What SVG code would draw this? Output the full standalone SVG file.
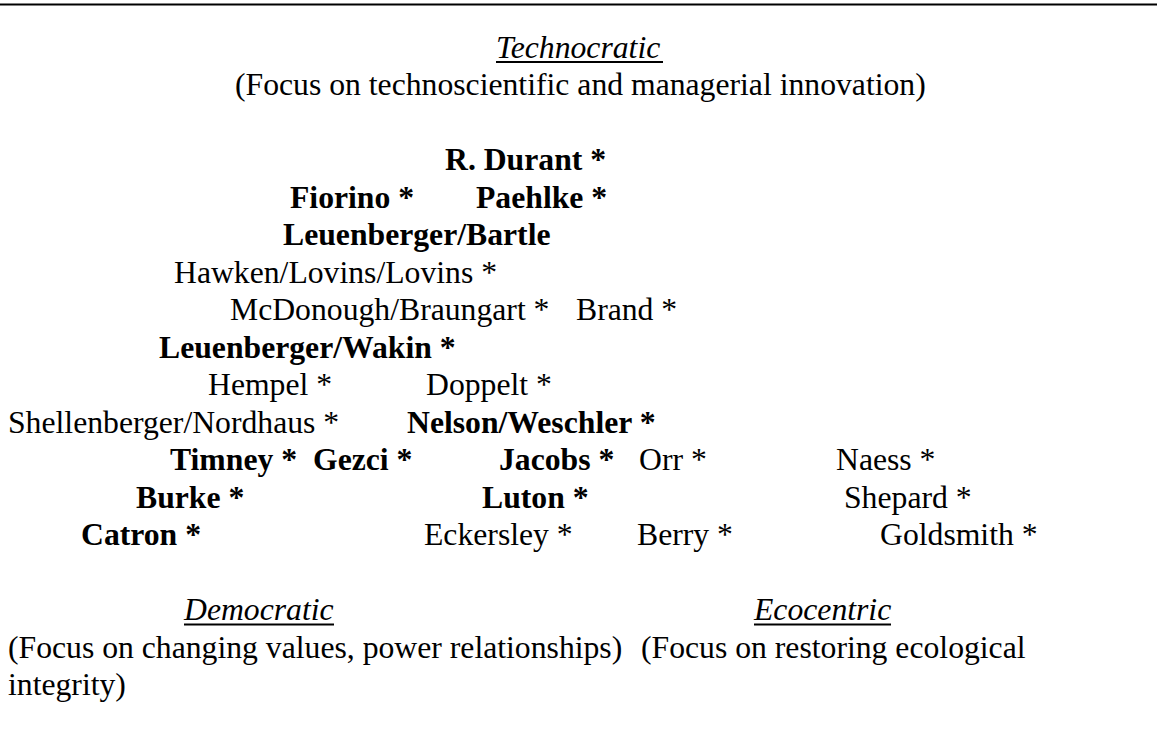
<svg xmlns="http://www.w3.org/2000/svg" width="1157" height="730" viewBox="0 0 1157 730">
<style>
text{font-family:"Liberation Serif","Times New Roman",serif;font-size:31.7px;fill:#000}
.b{font-weight:bold}
.i{font-style:italic}
.ul{stroke:#000;stroke-width:2}
</style>
<rect width="1157" height="730" fill="#fff"/>
<line x1="0" y1="4.5" x2="1157" y2="4.5" stroke="#000" stroke-width="2"/>
<g id="technocratic">
<text class="i" x="496" y="57.5">Technocratic</text>
<line class="ul" x1="496" y1="62" x2="663" y2="62"/>
<text x="235" y="95">(Focus on technoscientific and managerial innovation)</text>
</g>
<g id="n-durant"><text class="b" x="445" y="170">R. Durant *</text></g>
<g id="n-fiorino"><text class="b" x="290" y="207.5">Fiorino *</text></g>
<g id="n-paehlke"><text class="b" x="476" y="207.5">Paehlke *</text></g>
<g id="n-leuenberger-bartle"><text class="b" x="283" y="245">Leuenberger/Bartle</text></g>
<g id="n-hawken"><text x="174" y="282.5">Hawken/Lovins/Lovins *</text></g>
<g id="n-mcdonough"><text x="230" y="320">McDonough/Braungart *</text></g>
<g id="n-brand"><text x="576" y="320">Brand *</text></g>
<g id="n-leuenberger-wakin"><text class="b" x="159" y="357.5">Leuenberger/Wakin *</text></g>
<g id="n-hempel"><text x="208" y="395">Hempel *</text></g>
<g id="n-doppelt"><text x="426" y="395">Doppelt *</text></g>
<g id="n-shellenberger"><text x="8" y="432.5">Shellenberger/Nordhaus *</text></g>
<g id="n-nelson"><text class="b" x="407" y="432.5">Nelson/Weschler *</text></g>
<g id="n-timney"><text class="b" x="170" y="470">Timney *</text></g>
<g id="n-gezci"><text class="b" x="313" y="470">Gezci *</text></g>
<g id="n-jacobs"><text class="b" x="499" y="470">Jacobs *</text></g>
<g id="n-orr"><text x="639" y="470">Orr *</text></g>
<g id="n-naess"><text x="836" y="470">Naess *</text></g>
<g id="n-burke"><text class="b" x="136" y="507.5">Burke *</text></g>
<g id="n-luton"><text class="b" x="482" y="507.5">Luton *</text></g>
<g id="n-shepard"><text x="844" y="507.5">Shepard *</text></g>
<g id="n-catron"><text class="b" x="81" y="545">Catron *</text></g>
<g id="n-eckersley"><text x="424" y="545">Eckersley *</text></g>
<g id="n-berry"><text x="637" y="545">Berry *</text></g>
<g id="n-goldsmith"><text x="880" y="545">Goldsmith *</text></g>
<g id="democratic">
<text class="i" x="184" y="620">Democratic</text>
<line class="ul" x1="184" y1="624.5" x2="334" y2="624.5"/>
<text x="8" y="657.5">(Focus on changing values, power relationships)</text>
<text x="8" y="695">integrity)</text>
</g>
<g id="ecocentric">
<text class="i" x="754" y="620">Ecocentric</text>
<line class="ul" x1="754" y1="624.5" x2="891" y2="624.5"/>
<text x="641" y="657.5">(Focus on restoring ecological</text>
</g>
<g id="connectors"/>
</svg>
